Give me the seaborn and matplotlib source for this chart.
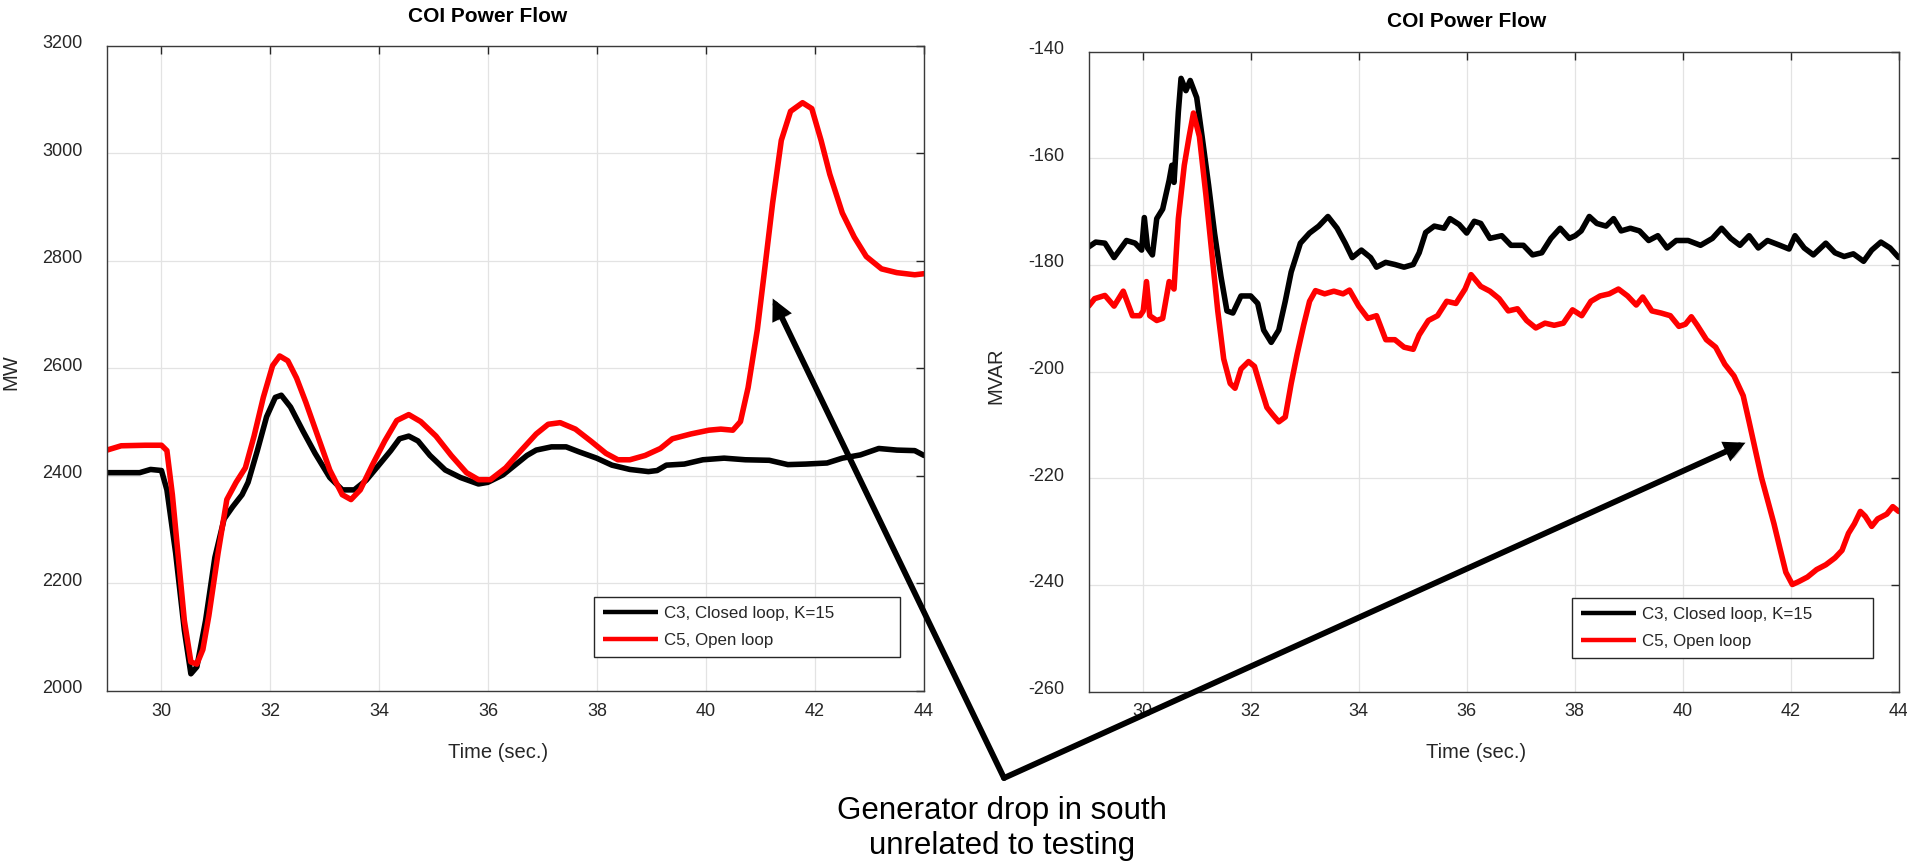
import numpy as np
import pandas as pd
import seaborn as sns
import matplotlib.pyplot as plt
import matplotlib.patches as mpatches
import matplotlib.patheffects as pe
from matplotlib.transforms import ScaledTranslation

# ---- data ----
mw_c3_t = [29.0, 29.6, 29.8, 30.0, 30.1, 30.26, 30.42, 30.54, 30.65, 30.81, 30.98, 31.15,
           31.31, 31.48, 31.59, 31.76, 31.93, 32.09, 32.2, 32.37, 32.6, 32.82, 33.09, 33.32,
           33.54, 33.76, 33.99, 34.21, 34.37, 34.54, 34.71, 34.93, 35.21, 35.49, 35.82, 35.99,
           36.27, 36.49, 36.71, 36.88, 37.16, 37.43, 37.66, 37.99, 38.27, 38.6, 38.94, 39.1,
           39.27, 39.6, 39.94, 40.33, 40.72, 41.16, 41.5, 41.83, 42.22, 42.5, 42.83, 43.17,
           43.5, 43.83, 44.0]
mw_c3 = [2406, 2406, 2412, 2410, 2374, 2257, 2113, 2032, 2045, 2131, 2248, 2320,
         2343, 2365, 2388, 2447, 2510, 2546, 2550, 2528, 2483, 2442, 2397, 2374,
         2374, 2392, 2420, 2447, 2469, 2474, 2465, 2438, 2411, 2397, 2385, 2388,
         2402, 2420, 2438, 2448, 2454, 2454, 2445, 2433, 2420, 2412, 2408, 2410,
         2420, 2422, 2430, 2433, 2430, 2429, 2421, 2422, 2424, 2433, 2439, 2451,
         2448, 2447, 2438]

mw_c5_t = [29.0, 29.26, 29.7, 30.0, 30.1, 30.2, 30.31, 30.42, 30.54, 30.65, 30.76, 30.87,
           31.04, 31.2, 31.37, 31.54, 31.7, 31.87, 32.04, 32.17, 32.32, 32.48, 32.65, 32.87,
           33.09, 33.32, 33.48, 33.65, 33.87, 34.1, 34.32, 34.54, 34.76, 35.04, 35.32, 35.6,
           35.82, 36.04, 36.32, 36.6, 36.88, 37.1, 37.32, 37.6, 37.88, 38.16, 38.38, 38.6,
           38.88, 39.16, 39.38, 39.72, 40.05, 40.27, 40.49, 40.63, 40.77, 40.94, 41.07, 41.22,
           41.38, 41.55, 41.77, 41.94, 42.11, 42.27, 42.5, 42.72, 42.94, 43.22, 43.5, 43.83, 44.0]
mw_c5 = [2448, 2456, 2457, 2457, 2447, 2365, 2248, 2131, 2054, 2050, 2077, 2140,
         2257, 2356, 2388, 2415, 2474, 2546, 2605, 2623, 2614, 2582, 2537, 2474,
         2411, 2365, 2356, 2374, 2420, 2465, 2503, 2514, 2501, 2474, 2438, 2406,
         2393, 2393, 2415, 2447, 2478, 2496, 2499, 2487, 2465, 2442, 2430, 2430,
         2438, 2451, 2469, 2478, 2485, 2487, 2485, 2501, 2564, 2672, 2780, 2907,
         3024, 3078, 3094, 3083, 3024, 2961, 2889, 2844, 2808, 2785, 2778, 2774, 2776]

mvar_c3_t = [29.0, 29.13, 29.3, 29.47, 29.7, 29.86, 29.98, 30.03, 30.09, 30.18, 30.26, 30.37,
             30.49, 30.54, 30.58, 30.66, 30.71, 30.8, 30.88, 31.0, 31.1, 31.22, 31.33, 31.45,
             31.56, 31.67, 31.82, 32.0, 32.13, 32.24, 32.38, 32.52, 32.64, 32.75, 32.92, 33.09,
             33.26, 33.43, 33.6, 33.75, 33.88, 34.05, 34.22, 34.33, 34.5, 34.67, 34.84, 35.01,
             35.12, 35.24, 35.4, 35.58, 35.69, 35.86, 36.0, 36.14, 36.26, 36.43, 36.65, 36.82,
             37.05, 37.22, 37.39, 37.56, 37.73, 37.9, 38.01, 38.12, 38.27, 38.41, 38.58, 38.72,
             38.86, 39.03, 39.2, 39.37, 39.54, 39.71, 39.88, 40.1, 40.33, 40.55, 40.72, 40.89,
             41.06, 41.23, 41.4, 41.57, 41.8, 41.97, 42.08, 42.25, 42.42, 42.65, 42.82, 42.99,
             43.16, 43.35, 43.5, 43.67, 43.84, 44.0]
mvar_c3 = [-176.6, -175.7, -175.9, -178.6, -175.4, -175.9, -177.2, -171.1, -176.8, -178.1, -171.3, -169.5,
           -164.1, -161.3, -164.5, -151.3, -145.0, -147.3, -145.4, -148.6, -155.9, -165.0, -174.0, -182.2,
           -188.6, -189.0, -185.8, -185.8, -187.2, -192.2, -194.5, -192.2, -186.8, -181.3, -175.9, -174.0,
           -172.7, -170.9, -173.1, -175.9, -178.6, -177.2, -178.6, -180.4, -179.5, -179.9, -180.4, -179.9,
           -177.7, -173.9, -172.7, -173.1, -171.3, -172.4, -174.0, -171.8, -172.2, -175.0, -174.5, -176.3,
           -176.3, -178.1, -177.7, -175.0, -173.1, -175.0, -174.5, -173.6, -170.9, -172.2, -172.7, -171.3,
           -173.6, -173.1, -173.6, -175.4, -174.5, -176.8, -175.4, -175.4, -176.3, -175.0, -173.1, -175.0,
           -176.3, -174.5, -176.8, -175.4, -176.3, -177.0, -174.5, -176.8, -178.1, -175.9, -177.7, -178.4,
           -177.9, -179.3, -177.2, -175.7, -176.8, -178.6]

mvar_c5_t = [29.0, 29.11, 29.3, 29.47, 29.64, 29.81, 29.95, 30.01, 30.07, 30.13, 30.26, 30.37,
             30.49, 30.58, 30.66, 30.77, 30.86, 30.94, 31.05, 31.17, 31.28, 31.39, 31.5, 31.62,
             31.71, 31.82, 31.96, 32.07, 32.19, 32.3, 32.41, 32.52, 32.64, 32.75, 32.86, 32.98,
             33.09, 33.2, 33.37, 33.54, 33.71, 33.83, 34.0, 34.17, 34.33, 34.5, 34.67, 34.84,
             35.01, 35.12, 35.29, 35.46, 35.63, 35.8, 35.97, 36.08, 36.26, 36.43, 36.6, 36.77,
             36.94, 37.11, 37.28, 37.45, 37.62, 37.79, 37.96, 38.13, 38.3, 38.47, 38.64, 38.81,
             38.98, 39.14, 39.26, 39.43, 39.6, 39.77, 39.93, 40.05, 40.16, 40.27, 40.44, 40.61,
             40.78, 40.95, 41.12, 41.23, 41.35, 41.46, 41.57, 41.69, 41.8, 41.91, 42.03, 42.14,
             42.31, 42.48, 42.65, 42.82, 42.95, 43.07, 43.18, 43.29, 43.38, 43.5, 43.61, 43.78,
             43.89, 44.0]
mvar_c5 = [-187.7, -186.3, -185.7, -187.7, -184.9, -189.5, -189.5, -188.6, -183.1, -189.5, -190.4, -190.0,
           -183.1, -184.5, -171.3, -161.3, -155.9, -151.5, -155.9, -166.8, -177.7, -188.6, -197.6, -202.2,
           -203.1, -199.5, -198.1, -199.0, -203.1, -206.7, -208.1, -209.4, -208.5, -202.2, -196.7, -191.3,
           -186.8, -184.8, -185.4, -184.9, -185.4, -184.7, -187.7, -190.0, -189.5, -194.0, -194.0, -195.4,
           -195.8, -193.1, -190.4, -189.5, -186.8, -187.2, -184.5, -181.8, -184.0, -184.9, -186.3, -188.6,
           -188.2, -190.4, -191.8, -190.9, -191.3, -190.9, -188.4, -189.5, -186.8, -185.8, -185.4, -184.5,
           -185.8, -187.5, -186.0, -188.6, -189.0, -189.5, -191.5, -191.1, -189.7, -191.3, -194.0, -195.4,
           -198.6, -200.8, -204.5, -209.4, -214.9, -219.9, -224.0, -228.5, -233.1, -237.6, -239.9, -239.4,
           -238.5, -237.1, -236.2, -234.9, -233.5, -230.3, -228.5, -226.2, -227.1, -229.0, -227.6, -226.7,
           -225.3, -226.2]

series_labels = ['C3, Closed loop, K=15', 'C5, Open loop']
x_ticks = [30, 32, 34, 36, 38, 40, 42, 44]
mw_ticks = [2000, 2200, 2400, 2600, 2800, 3000, 3200]
mvar_ticks = [-260, -240, -220, -200, -180, -160, -140]

sns.set_style('white')
plt.rcParams['font.family'] = ['Liberation Sans', 'DejaVu Sans']
plt.rcParams['axes.unicode_minus'] = False

W, H = 1907, 864
fig = plt.figure(figsize=(W / 100, H / 100), dpi=100)


def px_axes(x0, y0, x1, y1):
    return fig.add_axes([x0 / W, 1 - y1 / H, (x1 - x0) / W, (y1 - y0) / H])


def panel(ax, t1, v1, t2, v2, ylim, yticks, ylabel, title_xy, xlabel_xy, ylabel_xy, leg_box):
    d1 = pd.DataFrame({'t': t1, 'v': v1})
    d2 = pd.DataFrame({'t': t2, 'v': v2})
    sns.lineplot(data=d1, x='t', y='v', ax=ax, color='black', lw=4.0,
                 label=series_labels[0], estimator=None, sort=False,
                 solid_joinstyle='round', solid_capstyle='round')
    sns.lineplot(data=d2, x='t', y='v', ax=ax, color='#ff0000', lw=4.0,
                 label=series_labels[1], estimator=None, sort=False,
                 solid_joinstyle='round', solid_capstyle='round')
    ax.set_xlim(29, 44)
    ax.set_ylim(*ylim)
    ax.set_xticks(x_ticks)
    ax.set_yticks(yticks)
    ax.grid(True, color='#e3e3e3', lw=0.9)
    ax.set_axisbelow(True)
    for s in ax.spines.values():
        s.set_color('#3a3a3a')
        s.set_linewidth(1.0)
    ax.tick_params(direction='in', length=6, width=1.0, top=True, right=True,
                   colors='#262626', labelsize=13)
    ax.tick_params(axis='x', pad=8.4)
    ax.tick_params(axis='y', pad=17.5)
    off = ScaledTranslation(0, 3 / 72, fig.dpi_scale_trans)
    for lb in ax.get_yticklabels():
        lb.set_transform(lb.get_transform() + off)

    bb = ax.get_position()
    x0, x1 = bb.x0 * W, bb.x1 * W
    y_top, y_bot = (1 - bb.y1) * H, (1 - bb.y0) * H

    def ax_xy(px, py):
        return ((px - x0) / (x1 - x0), (y_bot - py) / (y_bot - y_top))

    tx, ty = ax_xy(*title_xy)
    ax.set_title('COI Power Flow', x=tx, y=ty, va='center', pad=0,
                 fontsize=15, fontweight='bold', color='black')
    ax.set_xlabel('Time (sec.)', fontsize=14.5, color='#262626')
    ax.xaxis.set_label_coords(*ax_xy(*xlabel_xy))
    ax.xaxis.label.set_va('center')
    ax.set_ylabel(ylabel, fontsize=14.5, color='#262626')
    ax.yaxis.set_label_coords(*ax_xy(*ylabel_xy))
    ax.yaxis.label.set_va('center')

    # legend box given as top-left corner + size in pixels
    lx, ly, lw_, lh = leg_box
    leg = ax.legend(loc='upper left',
                    bbox_to_anchor=(lx / W, 1 - (ly + lh) / H, lw_ / W, lh / H),
                    bbox_transform=fig.transFigure, mode='expand', borderaxespad=0,
                    fancybox=False, framealpha=1, edgecolor='#262626', fontsize=12.2,
                    handlelength=3.25, handletextpad=0.35, labelspacing=0.68, borderpad=0.54)
    leg.get_frame().set_linewidth(1.0)
    for ln in leg.get_lines():
        ln.set_linewidth(3.2)
        ln.set_solid_capstyle('butt')


ax1 = px_axes(107, 45.7, 924, 691)
panel(ax1, mw_c3_t, mw_c3, mw_c5_t, mw_c5, (2000, 3200), mw_ticks, 'MW',
      (487.5, 16.7), (497.7, 752), (10.6, 372), (594, 597, 306, 69))

ax2 = px_axes(1088.7, 51.7, 1898.7, 691.7)
panel(ax2, mvar_c3_t, mvar_c3, mvar_c5_t, mvar_c5, (-260, -140), mvar_ticks, 'MVAR',
      (1466.5, 21.7), (1476.5, 752), (996, 376), (1572, 598, 301, 69))

# annotation arrows from the note to the two traces
vertex = (1004 / W, 1 - 778 / H)
for tip in [(772.7, 298.5), (1745.5, 442.7)]:
    arr = mpatches.FancyArrowPatch(vertex, (tip[0] / W, 1 - tip[1] / H),
                                   transform=fig.transFigure, arrowstyle='-|>',
                                   mutation_scale=22, lw=4.2, color='black',
                                   shrinkA=0, shrinkB=0, capstyle='round',
                                   joinstyle='miter', zorder=20)
    arr.set_path_effects([pe.SimplePatchShadow(offset=(2, -2), alpha=0.25), pe.Normal()])
    fig.add_artist(arr)

fig.text(1002 / W, 1 - 828.5 / H, 'Generator drop in south\nunrelated to testing',
         ha='center', va='center', fontsize=22.5, color='black', linespacing=1.18, zorder=20)

fig.savefig('out.png', dpi=100)
